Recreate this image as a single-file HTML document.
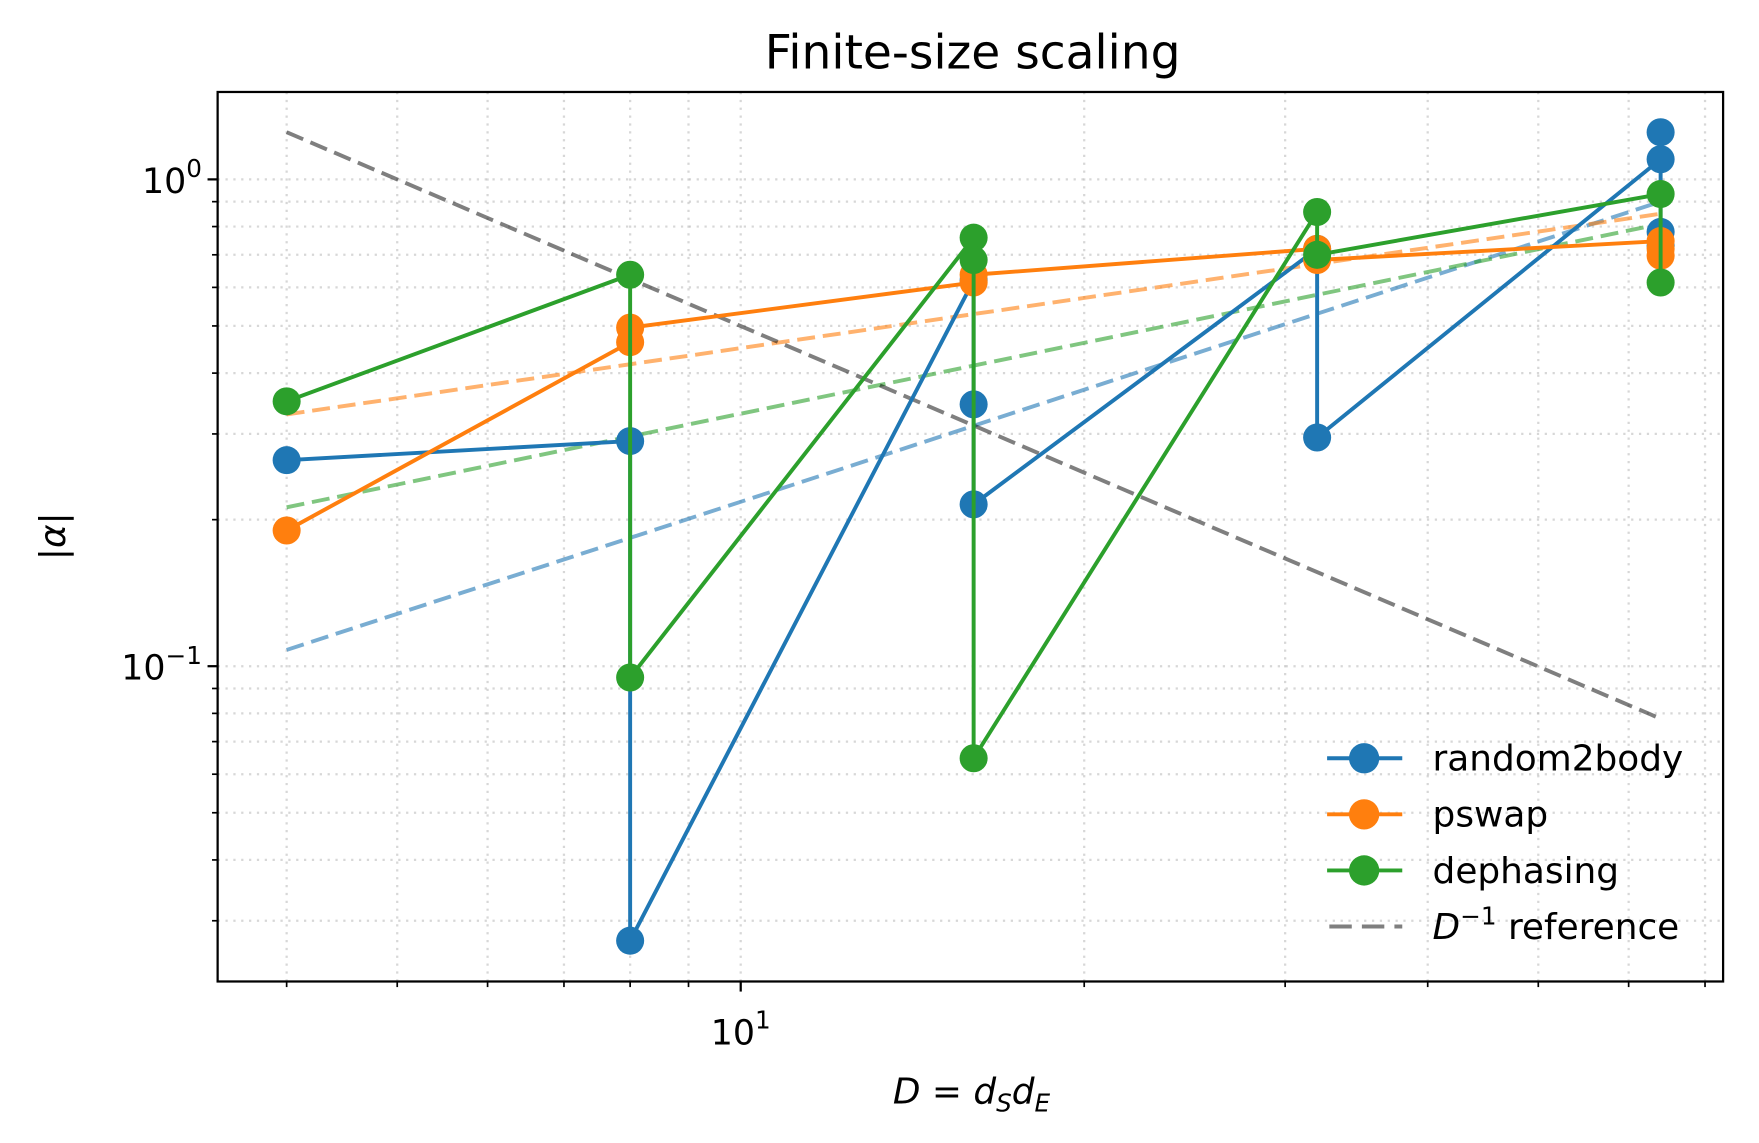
<!DOCTYPE html>
<html><head><meta charset="utf-8"><style>
body{margin:0;background:#fff;}
svg{display:block;font-family:"DejaVu Sans","Liberation Sans",sans-serif;}
</style></head><body>
<svg id="chart" width="1759" height="1143" viewBox="0 0 1568 1019" preserveAspectRatio="none" xmlns="http://www.w3.org/2000/svg">
<rect width="1568" height="1019" fill="#fff"/>
<g id="grid"></g>
<g id="series"></g>
<rect x="194" y="82" width="1342" height="793" fill="none" stroke="#000" stroke-width="2"/>
<g id="ticks"></g>
<text x="867" y="61" font-size="42" text-anchor="middle">Finite-size scaling</text>
<text x="866" y="984" font-size="32" text-anchor="middle" font-style="italic">D = d<tspan font-size="22" dy="7">S</tspan><tspan dy="-7">d</tspan><tspan font-size="22" dy="7">E</tspan></text>
<text x="58" y="478" font-size="32" text-anchor="middle" transform="rotate(-90 58 478)">|<tspan font-style="italic">α</tspan>|</text>
<g id="legend"></g>
</svg>
<script>
const xs_blue = [4, 8, 8, 16, 16, 16, 32, 32, 64, 64, 64, 64];
const ys_blue = [0.265, 0.29, 0.0273, 0.62, 0.345, 0.215, 0.72, 0.295, 1.10, 1.25, 0.78, 0.73];
const xs_orange = [4, 8, 8, 16, 16, 32, 32, 64, 64, 64];
const ys_orange = [0.19, 0.463, 0.496, 0.614, 0.637, 0.72, 0.683, 0.747, 0.697, 0.72];
const xs_green = [4, 8, 8, 16, 16, 16, 32, 32, 64, 64];
const ys_green = [0.35, 0.637, 0.0948, 0.759, 0.683, 0.0647, 0.857, 0.70, 0.933, 0.614];
const fit_x = [4, 64];
const fit_blue = [0.108, 0.90];
const fit_orange = [0.329, 0.85];
const fit_green = [0.212, 0.81];
const ref_y = [1.25, 0.078];
const xMinor = [4,5,6,7,8,9,20,30,40,50,60,70];
const yMinor = [0.03,0.04,0.05,0.06,0.07,0.08,0.09,0.2,0.3,0.4,0.5,0.6,0.7,0.8,0.9];
const legendLabels = ["random2body","pswap","dephasing"];

const NS="http://www.w3.org/2000/svg";
const L=194,R=1536,T=82,B=875;
const xlo=Math.log10(3.48), xhi=Math.log10(72.6), ylo=Math.log10(0.02251), yhi=Math.log10(1.512);
function X(v){return L+(Math.log10(v)-xlo)/(xhi-xlo)*(R-L);}
function Y(v){return B-(Math.log10(v)-ylo)/(yhi-ylo)*(B-T);}
function mk(tag,attrs,parent){const e=document.createElementNS(NS,tag);for(const k in attrs)e.setAttribute(k,attrs[k]);parent.appendChild(e);return e;}
const grid=document.getElementById('grid'),ticks=document.getElementById('ticks'),ser=document.getElementById('series'),leg=document.getElementById('legend');

[10].concat(xMinor).forEach(v=>{
  const l=mk('line',{x1:X(v),x2:X(v),y1:T,y2:B,stroke:'#b0b0b0','stroke-opacity':0.5,'stroke-width':2,'stroke-dasharray':'2,5'},grid);
  
  
  const major=v===10;
  const t=mk('line',{x1:X(v),x2:X(v),y1:B,y2:B+(major?9:5),stroke:'#000','stroke-width':major?2:1.5},ticks);
  
  
});
[1,0.1].concat(yMinor).forEach(v=>{
  const l=mk('line',{x1:L,x2:R,y1:Y(v),y2:Y(v),stroke:'#b0b0b0','stroke-opacity':0.5,'stroke-width':2,'stroke-dasharray':'2,5'},grid);
  
  
  const major=(v===1||v===0.1);
  const t=mk('line',{x1:L-(major?9:5),x2:L,y1:Y(v),y2:Y(v),stroke:'#000','stroke-width':major?2:1.5},ticks);
  
  
});
function expLabel(x,y,anchor,base,exp,name){
  const t=mk('text',{x:x,y:y,'font-size':31,'text-anchor':anchor},ticks);
  
  
  t.innerHTML=base+'<tspan font-size="22" dy="-14">'+exp+'</tspan>';
}
expLabel(X(10),931,'middle','10','1','x-tick-label-10');
expLabel(L-14,Y(1)+12,'end','10','0','y-tick-label-1');
expLabel(L-14,Y(0.1)+12,'end','10','−1','y-tick-label-0.1');

function dashed(ys,color,op,name){
  const l=mk('line',{x1:X(fit_x[0]),y1:Y(ys[0]),x2:X(fit_x[1]),y2:Y(ys[1]),stroke:color,'stroke-opacity':op,'stroke-width':3.5,'stroke-dasharray':'16,7'},ser);
  
  
}
dashed(fit_blue,'#1f77b4',0.6,'fit-random2body');
dashed(fit_orange,'#ff7f0e',0.6,'fit-pswap');
dashed(fit_green,'#2ca02c',0.6,'fit-dephasing');
dashed(ref_y,'#000',0.5,'reference-line');

function series(xs,ys,color,name){
  const p=mk('polyline',{points:xs.map((x,i)=>X(x)+','+Y(ys[i])).join(' '),fill:'none',stroke:color,'stroke-width':3.5,'stroke-linejoin':'round'},ser);
  
  
  xs.forEach((x,i)=>{
    const c=mk('circle',{cx:X(x),cy:Y(ys[i]),r:12.5,fill:color},ser);
    
    
  });
}
series(xs_blue,ys_blue,'#1f77b4','random2body');
series(xs_orange,ys_orange,'#ff7f0e','pswap');
series(xs_green,ys_green,'#2ca02c','dephasing');

const colors=['#1f77b4','#ff7f0e','#2ca02c'];
legendLabels.forEach((lab,i)=>{
  const y=676+i*50;
  const l=mk('line',{x1:1183,x2:1250,y1:y,y2:y,stroke:colors[i],'stroke-width':3.5},leg);
  
  
  const c=mk('circle',{cx:1216,cy:y,r:13.5,fill:colors[i]},leg);
  
  
  const t=mk('text',{x:1277,y:y+11,'font-size':32},leg);
  
  
  t.textContent=lab;
});
const rl=mk('line',{x1:1185,x2:1250,y1:826,y2:826,stroke:'#000','stroke-opacity':0.5,'stroke-width':3.5,'stroke-dasharray':'20,9'},leg);


const rt=mk('text',{x:1277,y:837,'font-size':32},leg);


rt.innerHTML='<tspan font-style="italic">D</tspan><tspan font-size="22" dy="-13">−1</tspan><tspan dy="13"> reference</tspan>';
</script>
</body></html>
